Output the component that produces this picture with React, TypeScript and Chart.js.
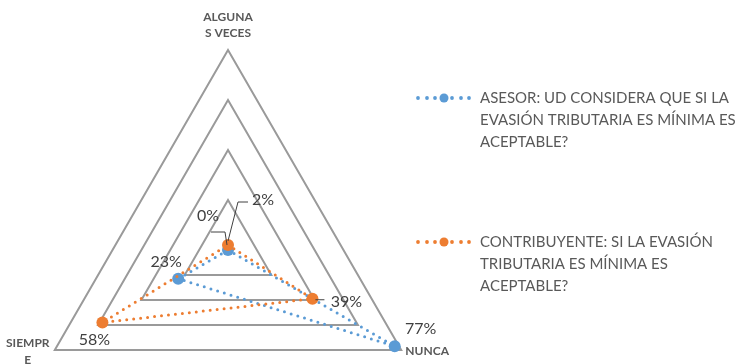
import { useEffect, useRef } from "react";
import { Chart, registerables } from "chart.js";

Chart.register(...registerables);

const categories = ["ALGUNAS VECES", "NUNCA", "SIEMPRE"];
const categoryLabelLines = [["ALGUNA", "S VECES"], ["NUNCA"], ["SIEMPR", "E"]];
const asesorValues = [0, 77, 23];
const contribuyenteValues = [2, 39, 58];
const seriesNames = [
  "ASESOR: UD CONSIDERA QUE SI LA EVASIÓN TRIBUTARIA ES MÍNIMA ES ACEPTABLE?",
  "CONTRIBUYENTE: SI LA EVASIÓN TRIBUTARIA ES MÍNIMA ES ACEPTABLE?",
];
const legendLines = [
  ["ASESOR: UD CONSIDERA QUE SI LA", "EVASIÓN TRIBUTARIA ES MÍNIMA ES", "ACEPTABLE?"],
  ["CONTRIBUYENTE: SI LA EVASIÓN", "TRIBUTARIA ES MÍNIMA ES", "ACEPTABLE?"],
];
const scaleMax = 80;
const scaleStep = 20;

const BLUE = "#5B9BD5";
const ORANGE = "#ED7D31";
const FONT = "Lato, 'Open Sans', sans-serif";

// label offsets per dataset / point (layout only)
const labelOffsets = [
  [[-20, -34], [26, -17], [-12, -17]],
  [[35, -45], [34, 3], [-8, 17]],
];
const leaderLines = [
  [[[-17, -18], [-3, -18], [-1, -5]], null, null],
  [[[0, -4], [10, -43], [20, -43]], [[3, 1], [12, 1]], null],
];
const axisLabelOffsets = [[[0, -33], [0, -17]], [[26, 1]], [[-27, -7], [-27, 10]]];

const overlayPlugin = {
  id: "overlay",
  afterDatasetsDraw(chart: any) {
    const ctx = chart.ctx;
    const scale = chart.scales.r;
    ctx.save();
    // axis labels
    ctx.font = `bold 12px ${FONT}`;
    ctx.fillStyle = "#595959";
    ctx.textAlign = "center";
    ctx.textBaseline = "middle";
    categoryLabelLines.forEach((lines, i) => {
      const p = scale.getPointPosition(i, scale.drawingArea);
      lines.forEach((t, j) => {
        const o = axisLabelOffsets[i][j];
        ctx.fillText(t, p.x + o[0], p.y + o[1]);
      });
    });
    // leader lines and data labels
    chart.data.datasets.forEach((ds: any, di: number) => {
      const meta = chart.getDatasetMeta(di);
      meta.data.forEach((pt: any, i: number) => {
        const lead = leaderLines[di][i];
        if (lead) {
          ctx.beginPath();
          ctx.strokeStyle = "#404040";
          ctx.lineWidth = 1;
          lead.forEach((q: number[], k: number) => {
            if (k === 0) ctx.moveTo(pt.x + q[0], pt.y + q[1]);
            else ctx.lineTo(pt.x + q[0], pt.y + q[1]);
          });
          ctx.stroke();
        }
        const o = labelOffsets[di][i];
        ctx.font = `16px ${FONT}`;
        ctx.fillStyle = "#404040";
        ctx.textAlign = "center";
        ctx.textBaseline = "middle";
        ctx.fillText(ds.data[i] + "%", pt.x + o[0], pt.y + o[1]);
      });
    });
    // legend
    const legendTop = [98, 242];
    const colors = [BLUE, ORANGE];
    legendLines.forEach((lines, li) => {
      const y = legendTop[li];
      ctx.fillStyle = colors[li];
      [418, 427, 435, 452, 461, 469].forEach((x) => {
        ctx.beginPath();
        ctx.arc(x, y, 1.9, 0, Math.PI * 2);
        ctx.fill();
      });
      ctx.beginPath();
      ctx.arc(444, y, 4.5, 0, Math.PI * 2);
      ctx.fill();
      ctx.font = `15px ${FONT}`;
      ctx.fillStyle = "#595959";
      ctx.textAlign = "left";
      ctx.textBaseline = "middle";
      lines.forEach((t, j) => ctx.fillText(t, 480, y + j * 22));
    });
    ctx.restore();
  },
};

export default function App() {
  const ref = useRef<HTMLCanvasElement | null>(null);
  useEffect(() => {
    if (!ref.current) return;
    const chart = new Chart(ref.current, {
      type: "radar",
      data: {
        labels: categories,
        datasets: [
          {
            label: seriesNames[0],
            data: asesorValues,
            borderColor: BLUE,
            backgroundColor: BLUE,
            pointBackgroundColor: BLUE,
            pointBorderWidth: 0,
            pointRadius: 6,
            borderWidth: 3,
            borderDash: [0, 7],
            borderCapStyle: "round",
            fill: false,
            order: 1,
          },
          {
            label: seriesNames[1],
            data: contribuyenteValues,
            borderColor: ORANGE,
            backgroundColor: ORANGE,
            pointBackgroundColor: ORANGE,
            pointBorderWidth: 0,
            pointRadius: 6,
            borderWidth: 3,
            borderDash: [0, 7],
            borderCapStyle: "round",
            fill: false,
            order: 0,
          },
        ],
      },
      options: {
        responsive: false,
        animation: false,
        plugins: { legend: { display: false }, tooltip: { enabled: false } },
        scales: {
          r: {
            min: 0,
            max: scaleMax,
            ticks: { display: false, stepSize: scaleStep },
            grid: { color: "#9a9a9a", lineWidth: 2 },
            angleLines: { display: false },
            pointLabels: { display: false },
            afterFit: (s: any) => {
              s.xCenter = 228;
              s.yCenter = 250;
              s.drawingArea = 200;
            },
          },
        },
      },
      plugins: [overlayPlugin],
    } as any);
    return () => chart.destroy();
  }, []);
  return (
    <div style={{ position: "absolute", left: 0, top: 0, width: 740, height: 364, background: "#fff" }}>
      <canvas ref={ref} width={740} height={364} />
    </div>
  );
}
